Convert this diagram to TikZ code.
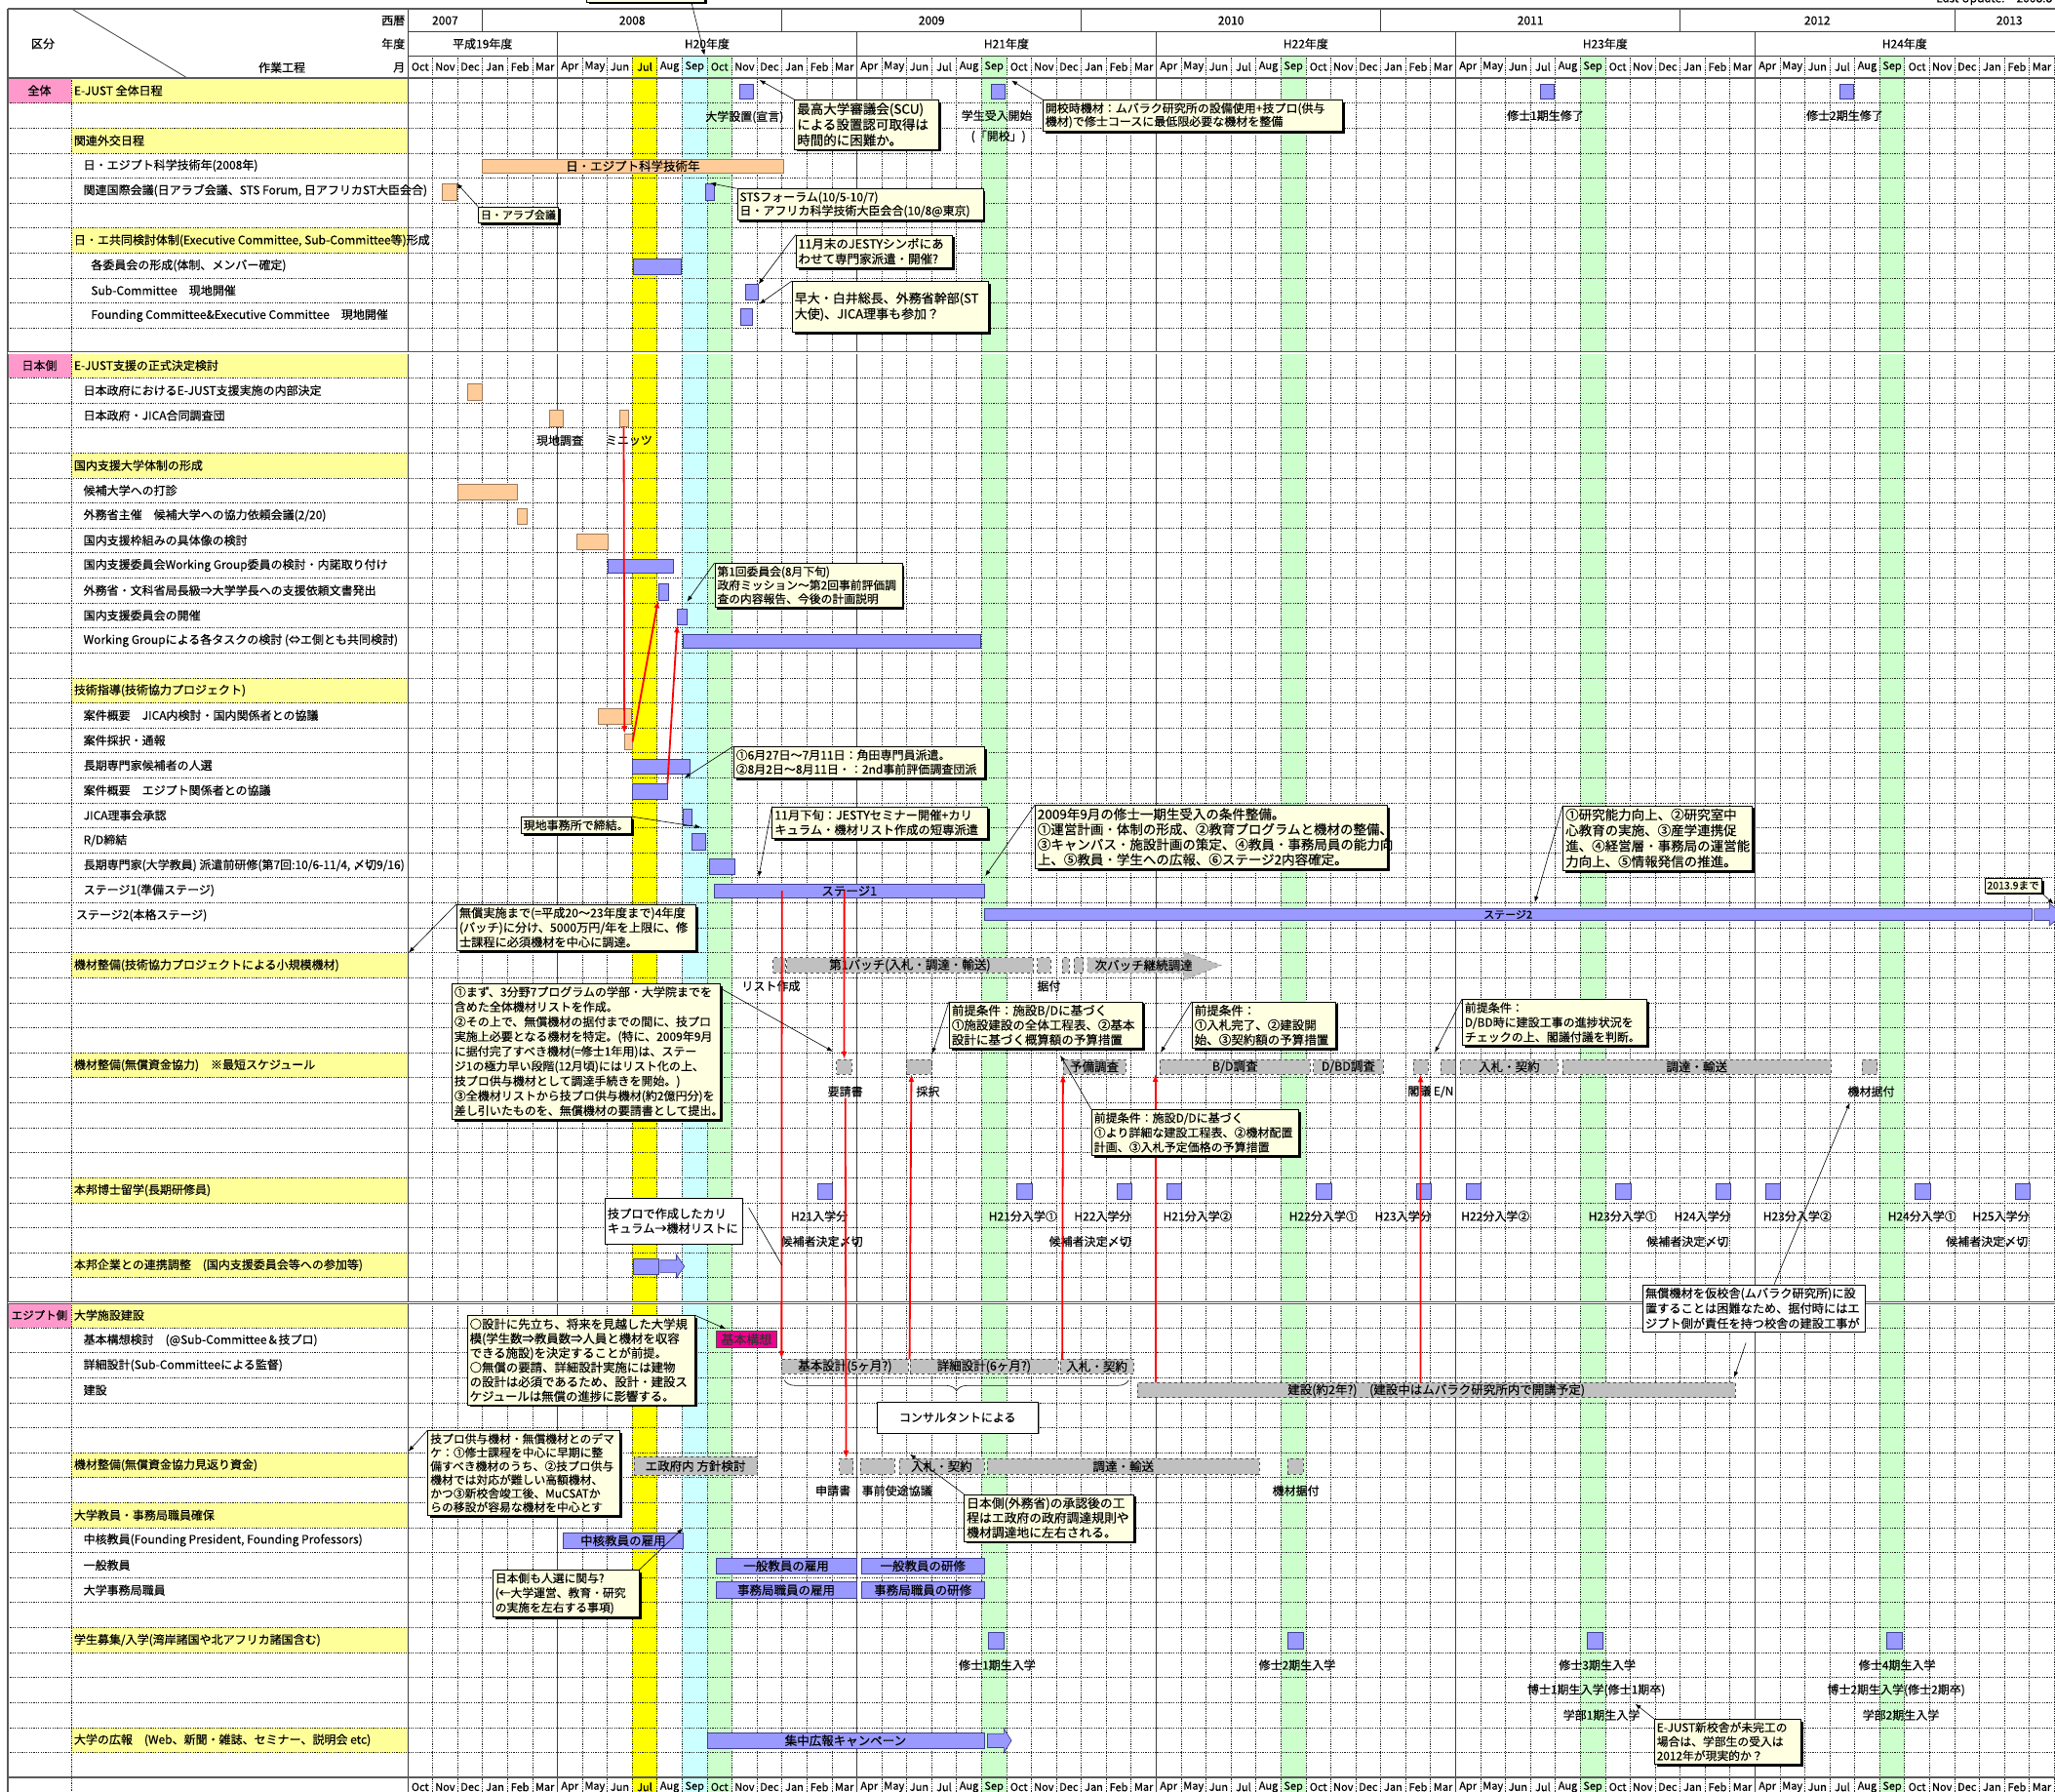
\documentclass[tikz,border=0pt]{standalone}
\usepackage{fontspec}
\setmainfont[FakeBold=0.35]{Noto Sans CJK JP}
\usepackage{tikz}
\usetikzlibrary{arrows.meta,positioning,calc,fit,backgrounds,shadows,decorations.pathreplacing}
\definecolor{catpink}{HTML}{FF99CC}
\definecolor{headyellow}{HTML}{FFFF99}
\definecolor{julyellow}{HTML}{FFFF00}
\definecolor{sepcyan}{HTML}{CCFFFF}
\definecolor{sepgreen}{HTML}{CCFFCC}
\definecolor{barblue}{HTML}{9999FF}
\definecolor{barblueline}{HTML}{3F3F8F}
\definecolor{barorange}{HTML}{FFCC99}
\definecolor{barorangeline}{HTML}{9C7A5A}
\definecolor{boxgray}{HTML}{C0C0C0}
\definecolor{notefill}{HTML}{FFFFE1}
\definecolor{gridline}{HTML}{222222}
\newcommand{\fsz}[2]{\fontsize{#1}{#2}\selectfont}

\tikzset{
  gridrule/.style={line width=0.7pt, gridline, dash pattern=on 1.3pt off 1.1pt},
  solidrule/.style={line width=0.8pt, black!75},
  framerule/.style={line width=1.6pt, black!65},
  bluebar/.style={draw=barblueline, fill=barblue, line width=0.7pt, inner sep=0pt},
  orangebar/.style={draw=barorangeline, fill=barorange, line width=0.7pt, inner sep=0pt},
  graybox/.style={draw=black!70, fill=boxgray, dashed, line width=0.7pt, inner sep=0pt},
  callout/.style={draw=black, fill=notefill, line width=0.6pt, inner xsep=2.5pt, inner ysep=3pt,
    align=left, font=\fsz{12}{14.5},
    drop shadow={shadow xshift=2.5pt, shadow yshift=-2.5pt, fill=black, opacity=1}},
  plainnote/.style={draw=black, fill=white, line width=0.6pt, inner xsep=2.5pt, inner ysep=3pt,
    align=left, font=\fsz{12}{14.5}},
  sectlabel/.style={anchor=west, inner sep=0pt, font=\fsz{12}{14}},
  tasklabel/.style={anchor=west, inner sep=0pt, font=\fsz{12}{14}},
  catlabel/.style={inner sep=0pt, font=\fsz{12}{14}},
  headtext/.style={inner sep=0pt, font=\fsz{12}{14}},
  monthtext/.style={inner sep=0pt, font=\fsz{11}{13}},
  chartnote/.style={inner sep=1pt, font=\fsz{12}{14}},
  barlabel/.style={inner sep=0pt, font=\fsz{12.5}{14}},
  pointer/.style={-{Latex[length=6pt,width=4.5pt]}, line width=0.6pt, black},
  redlink/.style={-{Latex[length=8pt,width=6pt]}, line width=1.8pt, red},
}

\begin{document}
\begin{tikzpicture}[x=25.58pt, y=-25.62pt]
\useasboundingbox (-16.341,-3.1226) rectangle (66.028,68.579);

% highlighted months
\fill[julyellow] (9,-0.9) rectangle (10,68.6);
\fill[sepcyan] (11,-0.9) rectangle (12,68.6);
\foreach \m in {12,23,35,47,59}
  \fill[sepgreen] (\m,-0.9) rectangle (\m+1,68.6);

% category and section cells
\foreach \r in {0,2,6,11,15,24,35,39,44,47,49,55,57,62,66}
  \fill[headyellow] (-13.49,\r) rectangle (0,\r+1);
\foreach \r in {0,11,49}
  \fill[catpink] (-16.03,\r) rectangle (-13.49,\r+1);

% grid
\foreach \r in {1,...,10,12,13,...,48,50,51,...,67}
  \draw[gridrule] (-16.03,\r) -- (66.2,\r);
\foreach \m in {1,...,66}
  \draw[gridrule] (\m,-0.9) -- (\m,68.6);
\draw[gridrule] (-13.49,0) -- (-13.49,68.6);
\foreach \m in {0,6,18,30,42,54}
  \draw[solidrule] (\m,-1.84) -- (\m,68.6);
\draw[solidrule] (0,-2.77) -- (0,-1.84);
\foreach \m in {3,15,27,39,51,62}
  \draw[solidrule] (\m,-2.77) -- (\m,-1.84);
\draw[solidrule] (0,-1.84) -- (66.2,-1.84);
\draw[solidrule] (0,-0.9) -- (66.2,-0.9);
\draw[solidrule] (-13.47,-2.77) -- (-8.83,0);
\draw[framerule] (-16.03,-2.77) -- (66.2,-2.77);
\draw[framerule] (-16.03,0) -- (66.2,0);
\draw[framerule] (-16.03,68) -- (66.2,68);
\draw[framerule] (-16.03,-2.77) -- (-16.03,68.6);
\foreach \r in {11,49}
  \draw[double, double distance=1.6pt, line width=0.7pt, black!65] (-16.03,\r) -- (66.2,\r);

% header
\node[headtext] (hdkubun) at (-14.62,-1.37) {区分};
\node[headtext, anchor=east] (hdseireki) at (-0.1,-2.3) {西暦};
\node[headtext, anchor=east] (hdnendo) at (-0.1,-1.37) {年度};
\node[headtext, anchor=east] (hdtsuki) at (-0.1,-0.42) {月};
\node[headtext] (hdkotei) at (-5.04,-0.42) {作業工程};
\foreach \c/\yr in {1.5/2007, 9/2008, 21/2009, 33/2010, 45/2011, 56.5/2012, 64.2/2013}
  \node[headtext] (yr\yr) at (\c,-2.3) {\yr};
\foreach \c/\fy [count=\k] in {3/平成19年度, 12/H20年度, 24/H21年度, 36/H22年度, 48/H23年度, 60/H24年度}
  \node[headtext] (fy\k) at (\c,-1.37) {\fy};
\foreach \i in {0,...,65} {
  \pgfmathparse{{"Oct","Nov","Dec","Jan","Feb","Mar","Apr","May","Jun","Jul","Aug","Sep"}[int(mod(\i,12))]}
  \let\mname\pgfmathresult
  \node[monthtext] (mon\i) at (\i+0.5,-0.45) {\mname};
  \node[monthtext] (foot\i) at (\i+0.5,68.38) {\mname};
}
\node[anchor=base west, inner sep=0pt, font=\fsz{12}{14}] (update) at (61.26,-3.03) {Last Update:　2008.8};

% category cells
\node[catlabel] (cat0) at (-14.76,0.5) {全体};
\node[catlabel] (cat11) at (-14.76,11.5) {日本側};
\node[catlabel, font=\fsz{11.5}{13}] (cat49) at (-14.76,49.5) {エジプト側};

% task labels
\node[sectlabel] (lbl0) at (-13.38,0.5) {E-JUST 全体日程};
\node[sectlabel] (lbl2) at (-13.38,2.5) {関連外交日程};
\node[tasklabel] (lbl3) at (-13.0,3.5) {日・エジプト科学技術年(2008年)};
\node[tasklabel] (lbl4) at (-13.0,4.5) {関連国際会議(日アラブ会議、STS Forum, 日アフリカST大臣会合)};
\node[sectlabel] (lbl6) at (-13.38,6.5) {日・エ共同検討体制(Executive Committee, Sub-Committee等)形成};
\node[tasklabel] (lbl7) at (-12.7,7.5) {各委員会の形成(体制、メンバー確定)};
\node[tasklabel] (lbl8) at (-12.7,8.5) {Sub-Committee　現地開催};
\node[tasklabel] (lbl9) at (-12.7,9.5) {Founding Committee\&Executive Committee　現地開催};
\node[sectlabel] (lbl11) at (-13.38,11.5) {E-JUST支援の正式決定検討};
\node[tasklabel] (lbl12) at (-13.0,12.5) {日本政府におけるE-JUST支援実施の内部決定};
\node[tasklabel] (lbl13) at (-13.0,13.5) {日本政府・JICA合同調査団};
\node[sectlabel] (lbl15) at (-13.38,15.5) {国内支援大学体制の形成};
\node[tasklabel] (lbl16) at (-13.0,16.5) {候補大学への打診};
\node[tasklabel] (lbl17) at (-13.0,17.5) {外務省主催　候補大学への協力依頼会議(2/20)};
\node[tasklabel] (lbl18) at (-13.0,18.5) {国内支援枠組みの具体像の検討};
\node[tasklabel] (lbl19) at (-13.0,19.5) {国内支援委員会Working Group委員の検討・内諾取り付け};
\node[tasklabel] (lbl20) at (-13.0,20.5) {外務省・文科省局長級⇒大学学長への支援依頼文書発出};
\node[tasklabel] (lbl21) at (-13.0,21.5) {国内支援委員会の開催};
\node[tasklabel] (lbl22) at (-13.0,22.5) {Working Groupによる各タスクの検討 (⇔エ側とも共同検討)};
\node[sectlabel] (lbl24) at (-13.38,24.5) {技術指導(技術協力プロジェクト)};
\node[tasklabel] (lbl25) at (-13.0,25.5) {案件概要　JICA内検討・国内関係者との協議};
\node[tasklabel] (lbl26) at (-13.0,26.5) {案件採択・通報};
\node[tasklabel] (lbl27) at (-13.0,27.5) {長期専門家候補者の人選};
\node[tasklabel] (lbl28) at (-13.0,28.5) {案件概要　エジプト関係者との協議};
\node[tasklabel] (lbl29) at (-13.0,29.5) {JICA理事会承認};
\node[tasklabel] (lbl30) at (-13.0,30.5) {R/D締結};
\node[tasklabel] (lbl31) at (-13.0,31.5) {長期専門家(大学教員) 派遣前研修(第7回:10/6-11/4, 〆切9/16)};
\node[tasklabel] (lbl32) at (-13.0,32.5) {ステージ1(準備ステージ)};
\node[tasklabel] (lbl33) at (-13.3,33.5) {ステージ2(本格ステージ)};
\node[sectlabel] (lbl35) at (-13.38,35.5) {機材整備(技術協力プロジェクトによる小規模機材)};
\node[sectlabel] (lbl39) at (-13.38,39.5) {機材整備(無償資金協力)　※最短スケジュール};
\node[sectlabel] (lbl44) at (-13.38,44.5) {本邦博士留学(長期研修員)};
\node[sectlabel] (lbl47) at (-13.38,47.5) {本邦企業との連携調整　(国内支援委員会等への参加等)};
\node[sectlabel] (lbl49) at (-13.38,49.5) {大学施設建設};
\node[tasklabel] (lbl50) at (-13.0,50.5) {基本構想検討　(@Sub-Committee＆技プロ)};
\node[tasklabel] (lbl51) at (-13.0,51.5) {詳細設計(Sub-Committeeによる監督)};
\node[tasklabel] (lbl52) at (-13.0,52.5) {建設};
\node[sectlabel] (lbl55) at (-13.38,55.5) {機材整備(無償資金協力見返り資金)};
\node[sectlabel] (lbl57) at (-13.38,57.5) {大学教員・事務局職員確保};
\node[tasklabel] (lbl58) at (-13.0,58.5) {中核教員(Founding President, Founding Professors)};
\node[tasklabel] (lbl59) at (-13.0,59.5) {一般教員};
\node[tasklabel] (lbl60) at (-13.0,60.5) {大学事務局職員};
\node[sectlabel] (lbl62) at (-13.38,62.5) {学生募集/入学(湾岸諸国や北アフリカ諸国含む)};
\node[sectlabel] (lbl66) at (-13.38,66.5) {大学の広報　(Web、新聞・雑誌、セミナー、説明会 etc)};

% bars: overall and diplomacy
\node[bluebar, fit={(13.3,0.25)(13.85,0.85)}] (setchi) {};
\node[bluebar, fit={(23.4,0.25)(23.95,0.85)}] (ukeire) {};
\node[bluebar, fit={(45.4,0.25)(45.95,0.85)}] (shuryo1) {};
\node[bluebar, fit={(57.4,0.25)(57.95,0.85)}] (shuryo2) {};
\node[orangebar, fit={(3,3.24)(15.05,3.8)}, label={[barlabel]center:日・エジプト科学技術年}] (gakunen) {};
\node[orangebar, fit={(1.4,4.22)(1.95,4.88)}] (arabkaigi) {};
\node[bluebar, fit={(11.95,4.22)(12.3,4.88)}] (stsforum) {};
\node[bluebar, fit={(9.05,7.25)(10.95,7.87)}] (iinkaikeisei) {};
\node[bluebar, fit={(13.55,8.26)(14.05,8.86)}] (subcom) {};
\node[bluebar, fit={(13.33,9.24)(13.8,9.88)}] (foundcom) {};

% bars: Japan side
\node[orangebar, fit={(2.38,12.24)(3.0,12.88)}] (naibu) {};
\node[orangebar, fit={(5.7,13.27)(6.24,13.93)}] (genchichosa) {};
\node[orangebar, fit={(8.48,13.27)(8.84,13.93)}] (minutes) {};
\node[orangebar, fit={(2.0,16.24)(4.38,16.89)}] (dashin) {};
\node[orangebar, fit={(4.38,17.24)(4.78,17.84)}] (iraikaigi) {};
\node[orangebar, fit={(6.77,18.23)(8.02,18.86)}] (wakugumi) {};
\node[bluebar, fit={(8.02,19.25)(10.65,19.82)}] (wgiin) {};
\node[bluebar, fit={(10.05,20.22)(10.46,20.88)}] (iraibunsho) {};
\node[bluebar, fit={(10.82,21.23)(11.21,21.86)}] (shienkaisai) {};
\node[bluebar, fit={(11.03,22.25)(22.97,22.8)}] (wgkento) {};
\node[orangebar, fit={(7.62,25.24)(8.96,25.86)}] (jicakento) {};
\node[orangebar, fit={(8.7,26.25)(9.0,26.86)}] (saitaku) {};
\node[bluebar, fit={(9.0,27.24)(11.3,27.84)}] (jinsen) {};
\node[bluebar, fit={(9.0,28.25)(10.4,28.85)}] (egyptkyogi) {};
\node[bluebar, fit={(11.03,29.24)(11.39,29.9)}] (rijikai) {};
\node[bluebar, fit={(11.4,30.22)(11.95,30.9)}] (rdteiketsu) {};
\node[bluebar, fit={(12.1,31.25)(13.1,31.87)}] (kenshu) {};
\node[bluebar, fit={(12.3,32.25)(23.1,32.8)}, label={[barlabel]center:ステージ1}] (stage1) {};
\node[bluebar, fit={(23.1,33.24)(65.1,33.7)}, label={[barlabel, font=\fsz{11}{13}]center:ステージ2}] (stage2) {};
\draw[bluebar] (65.2,33.24) -- (65.8,33.24) -- (65.8,33.02) -- (66.35,33.47) -- (65.8,33.92) -- (65.8,33.7) -- (65.2,33.7) -- cycle;

% equipment (technical cooperation)
\node[graybox, fit={(14.65,35.2)(15.13,35.8)}] (listbox) {};
\node[graybox, fit={(15.2,35.2)(25.06,35.8)}, label={[barlabel]center:第1バッチ(入札・調達・輸送)}] (batch1) {};
\node[graybox, fit={(25.24,35.2)(25.76,35.8)}] (suetsukea) {};
\node[graybox, fit={(26.25,35.2)(26.5,35.8)}] (gapa) {};
\node[graybox, fit={(26.7,35.2)(27.08,35.8)}] (gapb) {};
\draw[graybox, draw=black!45] (27.25,35.2) -- (31.1,35.2) -- (31.1,34.96) -- (32.6,35.5) -- (31.1,36.1) -- (31.1,35.8) -- (27.25,35.8) -- cycle;
\node[barlabel] (nextbatch) at (29.5,35.5) {次バッチ継続調達};
\node[chartnote] (listlbl) at (14.56,36.33) {リスト作成};
\node[chartnote] (suelbl) at (25.7,36.33) {据付};

% equipment (grant aid)
\node[graybox, fit={(17.19,39.27)(17.8,39.85)}] (yosei) {};
\node[graybox, fit={(20.0,39.27)(21.0,39.85)}] (saitakub) {};
\node[graybox, fit={(26.28,39.27)(28.77,39.85)}, label={[barlabel]center:予備調査}] (yobi) {};
\node[graybox, fit={(30.15,39.27)(36.17,39.85)}, label={[barlabel]center:B/D調査}] (bdchosa) {};
\node[graybox, fit={(36.3,39.27)(39.1,39.85)}, label={[barlabel]center:D/BD調査}] (dbdchosa) {};
\node[graybox, fit={(40.3,39.27)(40.9,39.85)}] (kakugi) {};
\node[graybox, fit={(41.4,39.27)(42.0,39.85)}] (enbox) {};
\node[graybox, fit={(42.2,39.27)(46.1,39.85)}, label={[barlabel]center:入札・契約}] (nyusatsub) {};
\node[graybox, fit={(46.3,39.27)(57.04,39.85)}, label={[barlabel]center:調達・輸送}] (chotatsub) {};
\node[graybox, fit={(58.3,39.27)(58.9,39.85)}] (suetsukeb) {};
\node[chartnote] (yoseilbl) at (17.54,40.55) {要請書};
\node[chartnote] (saitakulbl) at (20.85,40.55) {採択};
\node[chartnote] (kakugilbl) at (41.0,40.55) {閣議 E/N};
\node[chartnote] (suetsukelbl) at (58.66,40.55) {機材据付};

% doctoral study
\foreach \m in {16,24,28,30,36,40,42,48,52,54,60,64}
  \node[bluebar, fit={(\m+0.42,44.23)(\m+1.03,44.85)}] (haken\m) {};
\foreach \c/\txt [count=\k] in {16.5/H21入学分, 24.66/H21分入学①, 27.85/H22入学分, 31.65/H21分入学②,
    36.7/H22分入学①, 39.9/H23入学分, 43.6/H22分入学②, 48.7/H23分入学①, 51.9/H24入学分,
    55.7/H23分入学②, 60.7/H24分入学①, 63.86/H25入学分}
  \node[chartnote] (nendo\k) at (\c,45.54) {\txt};
\foreach \c [count=\k] in {16.6,27.35,51.3,63.3}
  \node[chartnote] (shimekiri\k) at (\c,46.55) {候補者決定〆切};

% industry link
\node[bluebar, fit={(9.05,47.23)(10.05,47.88)}] (renkei) {};
\draw[bluebar] (10.12,47.3) -- (10.77,47.3) -- (10.77,47.08) -- (11.09,47.55) -- (10.77,48.0) -- (10.77,47.8) -- (10.12,47.8) -- cycle;

% Egypt side: facilities
\node[draw=black!70, fill=magenta, line width=0.7pt, inner sep=0pt, fit={(12.36,50.13)(14.8,50.8)},
  label={[barlabel, font=\fsz{13}{14}, text=black!80]center:基本構想}] (kihonkoso) {};
\node[graybox, fit={(15.0,51.26)(20.06,51.84)}, label={[barlabel]center:基本設計(5ヶ月?)}] (kihonsekkei) {};
\node[graybox, fit={(20.13,51.26)(26.07,51.84)}, label={[barlabel]center:詳細設計(6ヶ月?)}] (shosaisekkei) {};
\node[graybox, fit={(26.15,51.26)(29.1,51.84)}, label={[barlabel]center:入札・契約}] (nyusatsuc) {};
\draw[decorate, decoration={brace, mirror, amplitude=11pt}, line width=0.6pt] (15.1,52.1) -- (28.9,52.1);
\node[graybox, fit={(29.26,52.2)(53.2,52.8)}, label={[barlabel]center:建設(約2年?)　(建設中はムバラク研究所内で開講予定)}] (kensetsu) {};

% counterpart fund equipment
\node[graybox, fit={(9.07,55.17)(14.0,55.9)}, label={[barlabel]center:エ政府内 方針検討}] (hoshin) {};
\node[graybox, fit={(17.3,55.24)(17.85,55.86)}] (shinsei) {};
\node[graybox, fit={(18.14,55.24)(19.52,55.86)}] (shito) {};
\node[graybox, fit={(19.7,55.24)(23.1,55.86)}, label={[barlabel]center:入札・契約}] (nyusatsud) {};
\node[graybox, fit={(23.24,55.24)(34.13,55.86)}, label={[barlabel]center:調達・輸送}] (chotatsud) {};
\node[graybox, fit={(35.28,55.24)(35.9,55.86)}] (suetsuked) {};
\node[chartnote] (shinseilbl) at (17.05,56.52) {申請書};
\node[chartnote] (shitolbl) at (19.61,56.52) {事前使途協議};
\node[chartnote] (suetsukedlbl) at (35.6,56.52) {機材据付};

% staff
\node[bluebar, fit={(6.24,58.22)(11.03,58.82)}, label={[barlabel]center:中核教員の雇用}] (chukaku) {};
\node[bluebar, fit={(12.36,59.22)(17.98,59.84)}, label={[barlabel]center:一般教員の雇用}] (ippankoyo) {};
\node[bluebar, fit={(18.2,59.22)(23.1,59.84)}, label={[barlabel]center:一般教員の研修}] (ippankenshu) {};
\node[bluebar, fit={(12.36,60.18)(17.98,60.82)}, label={[barlabel]center:事務局職員の雇用}] (jimukoyo) {};
\node[bluebar, fit={(18.2,60.18)(23.1,60.82)}, label={[barlabel]center:事務局職員の研修}] (jimukenshu) {};

% students
\foreach \m in {23,35,47,59}
  \node[bluebar, fit={(\m+0.28,62.2)(\m+0.9,62.87)}] (nyugaku\m) {};
\foreach \c/\txt [count=\k] in {23.63/修士1期生入学, 35.65/修士2期生入学, 47.68/修士3期生入学, 59.7/修士4期生入学}
  \node[chartnote] (shushi\k) at (\c,63.5) {\txt};
\node[chartnote] (hakase1) at (47.64,64.5) {博士1期生入学(修士1期卒)};
\node[chartnote] (hakase2) at (59.66,64.5) {博士2期生入学(修士2期卒)};
\node[chartnote] (gakubu1) at (47.85,65.5) {学部1期生入学};
\node[chartnote] (gakubu2) at (59.85,65.5) {学部2期生入学};

% public relations
\node[bluebar, fit={(12.0,66.22)(23.1,66.82)}, label={[barlabel]center:集中広報キャンペーン}] (koho) {};
\draw[bluebar] (23.24,66.25) -- (23.9,66.25) -- (23.9,66.05) -- (24.2,66.52) -- (23.9,67.0) -- (23.9,66.8) -- (23.24,66.8) -- cycle;

% milestone notes
\node[chartnote] (setchilbl) at (13.5,1.56) {大学設置(宣言)};
\node[chartnote] (ukeirelbl) at (23.6,1.5) {学生受入開始};
\node[chartnote] (kaikolbl) at (23.68,2.34) {(「開校」)};
\node[chartnote] (shuryo1lbl) at (45.6,1.5) {修士1期生修了};
\node[chartnote] (shuryo2lbl) at (57.6,1.5) {修士2期生修了};
\node[chartnote] (genchilbl) at (6.1,14.5) {現地調査};
\node[chartnote] (minuteslbl) at (8.87,14.5) {ミニッツ};

% red dependency links
\coordinate (s1kihon) at (15.0,32.52);
\coordinate (s1yosei) at (17.5,32.52);
\coordinate (saitakutip) at (20.19,39.85);
\coordinate (kensbd) at (29.97,52.2);
\coordinate (bdtip) at (29.97,39.85);
\coordinate (kenskakugi) at (40.6,52.2);
\draw[redlink] (minutes.south) -- (saitaku.north west);
\draw[redlink] (saitaku.east) -- (iraibunsho.south west);
\draw[redlink] (egyptkyogi.north east) -- (shienkaisai.south west);
\draw[redlink] (s1kihon) -- (kihonsekkei.north west);
\draw[redlink] (s1yosei) -- (yosei.north);
\draw[redlink] (yoseilbl.south) -- (shinsei.north);
\draw[redlink] (shosaisekkei.north west) -- (saitakutip);
\draw[redlink] ($(nyusatsuc.north west)+(0.1,0)$) -- (yobi.south west);
\draw[redlink] (kensbd) -- (bdtip);
\draw[redlink] (kenskakugi) -- (kakugi.south);

% callouts
\node[callout, anchor=south west, minimum width=121pt, minimum height=30pt] (topnote) at (7.17,-3.04) {};
\node[callout, anchor=north west, text width=143pt, font=\fsz{13.5}{16}] (scu) at (15.5,0.86)
  {最高大学審議会(SCU)\\による設置認可取得は\\時間的に困難か。};
\node[callout, anchor=north west, text width=302pt, font=\fsz{12}{13.5}] (kaiko) at (25.45,0.86)
  {開校時機材：ムバラク研究所の設備使用+技プロ(供与\\機材)で修士コースに最低限必要な機材を整備};
\node[callout, anchor=north west, font=\fsz{11}{13}] (arab) at (2.82,5.14) {日・アラブ会議};
\node[callout, anchor=north west, text width=247pt, font=\fsz{12}{14}] (sts) at (13.2,4.42)
  {STSフォーラム(10/5-10/7)\\日・アフリカ科学技術大臣会合(10/8@東京)};
\node[callout, anchor=north west, text width=155pt, font=\fsz{12.5}{15.5}] (jesty) at (15.55,6.27)
  {11月末のJESTYシンポにあ\\わせて専門家派遣・開催?};
\node[callout, anchor=north west, text width=196pt, minimum height=52pt, font=\fsz{13}{16}] (waseda) at (15.4,8.12)
  {早大・白井総長、外務省幹部(ST\\大使)、JICA理事も参加？};
\node[callout, anchor=north west, text width=187pt, font=\fsz{11.8}{14}] (iinkai) at (12.3,19.4)
  {第1回委員会(8月下旬)\\政府ミッション～第2回事前評価調\\査の内容報告、今後の計画説明};
\node[callout, anchor=north west, text width=252pt, font=\fsz{12}{14.5}] (kakuta) at (13.05,26.74)
  {①6月27日～7月11日：角田専門員派遣。\\②8月2日～8月11日・：2nd事前評価調査団派};
\node[callout, anchor=north west, font=\fsz{12}{14}] (genchi) at (4.53,29.55) {現地事務所で締結。};
\node[callout, anchor=north west, text width=216pt, font=\fsz{12.3}{15}] (seminar) at (14.6,29.14)
  {11月下旬：JESTYセミナー開催+カリ\\キュラム・機材リスト作成の短専派遣};
\node[callout, anchor=north west, text width=356pt, font=\fsz{13.5}{15.5}] (jouken) at (25.14,29.08)
  {2009年9月の修士一期生受入の条件整備。\\①運営計画・体制の形成、②教育プログラムと機材の整備、\\③キャンパス・施設計画の策定、④教員・事務局員の能力向\\上、⑤教員・学生への広報、⑥ステージ2内容確定。};
\node[callout, anchor=north west, text width=189pt, font=\fsz{13.5}{16}] (kenkyu) at (46.3,29.1)
  {①研究能力向上、②研究室中\\心教育の実施、③産学連携促\\進、④経営層・事務局の運営能\\力向上、⑤情報発信の推進。};
\node[callout, anchor=north west, font=\fsz{10.5}{12}] (made2013) at (63.2,32.0) {2013.9まで};
\node[callout, anchor=north west, text width=240pt, font=\fsz{12.2}{15}] (musho4) at (1.96,33.05)
  {無償実施まで(=平成20～23年度まで)4年度\\(バッチ)に分け、5000万円/年を上限に、修\\士課程に必須機材を中心に調達。};
\node[callout, anchor=north west, text width=270pt, font=\fsz{12}{15.2}] (kizai) at (1.76,36.22)
  {①まず、3分野7プログラムの学部・大学院までを\\含めた全体機材リストを作成。\\②その上で、無償機材の据付までの間に、技プロ\\実施上必要となる機材を特定。(特に、2009年9月\\に据付完了すべき機材(=修士1年用)は、ステー\\ジ1の極力早い段階(12月頃)にはリスト化の上、\\技プロ供与機材として調達手続きを開始。)\\③全機材リストから技プロ供与機材(約2億円分)を\\差し引いたものを、無償機材の要請書として提出。};
\node[callout, anchor=north west, text width=193pt, font=\fsz{12.5}{15}] (bd) at (21.7,36.95)
  {前提条件：施設B/Dに基づく\\①施設建設の全体工程表、②基本\\設計に基づく概算額の予算措置};
\node[callout, anchor=north west, text width=142pt, font=\fsz{12.5}{15}] (nyusatsu) at (31.43,36.95)
  {前提条件：\\①入札完了、②建設開\\始、③契約額の予算措置};
\node[callout, anchor=north west, text width=184pt, font=\fsz{12}{15}] (dbd) at (42.26,36.85)
  {前提条件：\\D/BD時に建設工事の進捗状況を\\チェックの上、閣議付議を判断。};
\node[callout, anchor=north west, text width=207pt, font=\fsz{12}{15}] (dd) at (27.4,41.26)
  {前提条件：施設D/Dに基づく\\①より詳細な建設工程表、②機材配置\\計画、③入札予定価格の予算措置};
\node[plainnote, anchor=north west, text width=136pt, minimum height=47pt, font=\fsz{12.2}{15}] (curri) at (7.9,44.8)
  {技プロで作成したカリ\\キュラム→機材リストに};
\node[callout, anchor=north west, text width=228pt, font=\fsz{12.4}{14.8}] (sekkei) at (2.38,49.5)
  {○設計に先立ち、将来を見越した大学規\\模(学生数⇒教員数⇒人員と機材を収容\\できる施設)を決定することが前提。\\○無償の要請、詳細設計実施には建物\\の設計は必須であるため、設計・建設ス\\ケジュールは無償の進捗に影響する。};
\node[plainnote, anchor=north west, text width=223pt, font=\fsz{12.2}{15.5}] (mubarak) at (49.5,48.27)
  {無償機材を仮校舎(ムバラク研究所)に設\\置することは困難なため、据付時にはエ\\ジプト側が責任を持つ校舎の建設工事が};
\node[plainnote, anchor=north west, minimum width=165pt, minimum height=32pt, align=center, font=\fsz{12}{14},
  drop shadow={shadow xshift=1.5pt, shadow yshift=-1.5pt, fill=black!40, opacity=1}] (consult) at (18.8,52.95) {コンサルタントによる};
\node[callout, anchor=north west, text width=192pt, font=\fsz{11.8}{14}] (demake) at (0.8,54.1)
  {技プロ供与機材・無償機材とのデマ\\ケ：①修士課程を中心に早期に整\\備すべき機材のうち、②技プロ供与\\機材では対応が難しい高額機材、\\かつ③新校舎竣工後、MuCSATか\\らの移設が容易な機材を中心とす};
\node[callout, anchor=north west, text width=169pt, font=\fsz{12.8}{15}] (shonin) at (22.3,56.66)
  {日本側(外務省)の承認後の工\\程はエ政府の政府調達規則や\\機材調達地に左右される。};
\node[callout, anchor=north west, text width=145pt, font=\fsz{11.8}{15}] (jinsennote) at (3.4,59.68)
  {日本側も人選に関与?\\(←大学運営、教育・研究\\の実施を左右する事項)};
\node[callout, anchor=north west, text width=145pt, font=\fsz{11.8}{14.5}] (campus) at (49.96,65.65)
  {E-JUST新校舎が未完工の\\場合は、学部生の受入は\\2012年が現実的か？};

% pointer tips
\coordinate (toptip) at (11.9,-0.91);
\coordinate (topfrom) at (11.37,-3.04);
\coordinate (scutip) at (14.1,0.08);
\coordinate (kaikotip) at (24.2,0.1);
\coordinate (wasedatip) at (14.1,9.04);
\coordinate (iinkaitip) at (11.2,20.95);
\coordinate (kakutatip) at (11.1,28.0);
\coordinate (genchitip) at (11.75,29.98);
\coordinate (seminartip) at (14.07,31.97);
\coordinate (joukentip) at (23.15,31.93);
\coordinate (kenkyutip) at (45.18,32.98);
\coordinate (madetip) at (65.97,33.05);
\coordinate (musho4tip) at (0.04,35.0);
\coordinate (kizaitip) at (17.04,38.95);
\coordinate (bdtipb) at (21.03,39.03);
\coordinate (nyusatsutip) at (30.18,38.99);
\coordinate (dbdtip) at (41.17,38.99);
\coordinate (ddtip) at (26.16,39.1);
\coordinate (currifrom) at (13.67,45.2);
\coordinate (curriend) at (15.0,47.5);
\coordinate (sekkeitip) at (12.75,50.05);
\coordinate (demaketip) at (0.03,54.95);
\coordinate (shonintip) at (20.13,55.06);
\coordinate (jinsentip) at (11.03,58.03);
\coordinate (mubarakup) at (54.77,48.27);
\coordinate (mubaraktip) at (57.8,41.0);
\coordinate (mubarakdown) at (53.64,50.6);
\coordinate (mubarakend) at (53.17,51.99);
\coordinate (campustip) at (49.2,65.05);

\draw[pointer] (topfrom) -- (toptip);
\draw[pointer] (scu.north west) -- (scutip);
\draw[pointer] (kaiko.north west) -- (kaikotip);
\draw[pointer] (arab.north west) -- (arabkaigi.north east);
\draw[pointer] (sts.north west) -- (stsforum.north);
\draw[pointer] (jesty.north west) -- (subcom.north east);
\draw[pointer] (waseda.north west) -- (wasedatip);
\draw[pointer] (iinkai.north west) -- (iinkaitip);
\draw[pointer] (kakuta.north west) -- (kakutatip);
\draw[pointer] (genchi.north east) -- (genchitip);
\draw[pointer] (seminar.north west) -- (seminartip);
\draw[pointer] (jouken.north west) -- (joukentip);
\draw[pointer] (kenkyu.north west) -- (kenkyutip);
\draw[pointer] (made2013.south east) -- (madetip);
\draw[pointer] (musho4.north west) -- (musho4tip);
\draw[pointer] ($(kizai.north east)+(0,0.2)$) -- (kizaitip);
\draw[pointer] (bd.north west) -- (bdtipb);
\draw[pointer] (nyusatsu.north west) -- (nyusatsutip);
\draw[pointer] (dbd.north west) -- (dbdtip);
\draw[pointer] (dd.north west) -- (ddtip);
\draw[line width=0.6pt] (currifrom) -- (curriend);
\draw[pointer] (sekkei.north east) -- (sekkeitip);
\draw[pointer] (demake.north west) -- (demaketip);
\draw[pointer] (shonin.north west) -- (shonintip);
\draw[pointer] (jinsennote.north east) -- (jinsentip);
\draw[pointer] (mubarakup) -- (mubaraktip);
\draw[pointer] (mubarakdown) -- (mubarakend);
\draw[pointer] (campus.north west) -- (campustip);
\end{tikzpicture}
\end{document}
